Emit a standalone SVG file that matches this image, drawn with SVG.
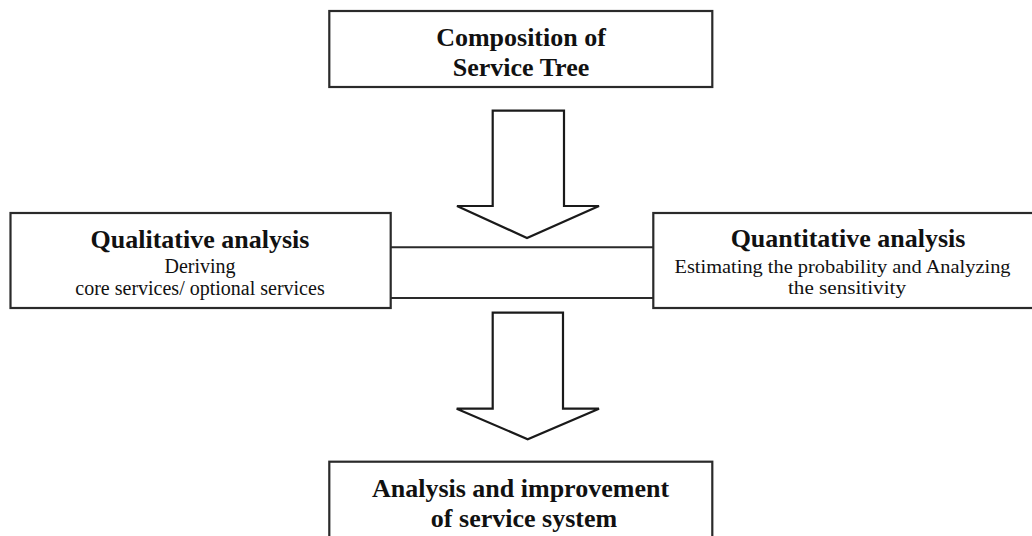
<svg xmlns="http://www.w3.org/2000/svg" width="1032" height="536" viewBox="0 0 1032 536">
<style>
.box{fill:#fff;stroke:#2a2a2a;stroke-width:2.2}
.arrow{fill:#fff;stroke:#1a1a1a;stroke-width:2.2;stroke-linejoin:miter}
.band{stroke:#2a2a2a;stroke-width:2;fill:none}
.t{font-family:"Liberation Serif","Times New Roman",serif;fill:#111;text-anchor:middle}
.b{font-weight:bold;font-size:26px}
.r{font-size:20px}
.s{font-size:18px}
</style>
<rect x="0" y="0" width="1032" height="536" fill="#fff"/>
<g id="connectors">
<line class="band" x1="390.7" y1="247.3" x2="653.3" y2="247.3"/>
<line class="band" x1="390.7" y1="298" x2="653.3" y2="298"/>
<polygon class="arrow" points="492.7,110.7 564,110.7 564,206 599,206 527,238 457,206 492.7,206"/>
<polygon class="arrow" points="492.7,312.7 563,312.7 563,408.7 599,408.7 527.7,439.3 456.7,408.7 492.7,408.7"/>
</g>
<g id="node-composition">
<rect class="box" x="329.3" y="11" width="383" height="76"/>
<text class="t b" x="521" y="45.7">Composition of</text>
<text class="t b" x="521" y="76">Service Tree</text>
</g>
<g id="node-qualitative">
<rect class="box" x="10.5" y="213" width="380.2" height="95"/>
<text class="t b" x="200" y="247.7">Qualitative analysis</text>
<text class="t r" x="200" y="272.7">Deriving</text>
<text class="t r" x="200" y="295">core services/ optional services</text>
</g>
<g id="node-quantitative">
<rect class="box" x="653.3" y="213" width="390" height="95"/>
<text class="t b" x="848" y="246.7">Quantitative analysis</text>
<text class="t s" x="842.5" y="272.5" textLength="336" lengthAdjust="spacingAndGlyphs">Estimating the probability and Analyzing</text>
<text class="t s" x="847" y="293.5" textLength="118" lengthAdjust="spacingAndGlyphs">the sensitivity</text>
</g>
<g id="node-improvement">
<rect class="box" x="329.3" y="461.7" width="383" height="80"/>
<text class="t b" x="520.5" y="496.7">Analysis and improvement</text>
<text class="t b" x="524" y="526.7">of service system</text>
</g>
</svg>
